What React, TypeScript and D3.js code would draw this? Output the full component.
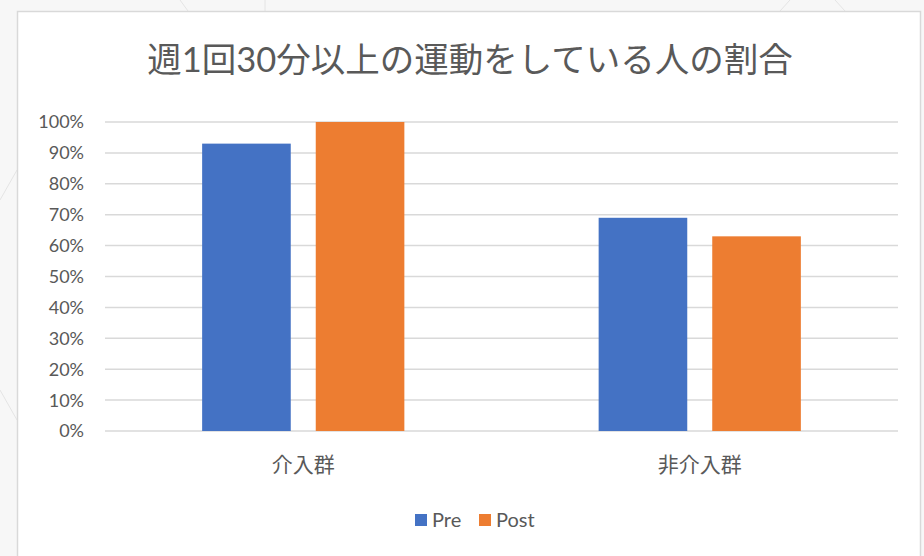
import React from "react";
import * as d3 from "d3";

const categories = ["介入群", "非介入群"];
const seriesNames = ["Pre", "Post"];
const preValues = [0.93, 0.69];
const postValues = [1.0, 0.63];
const yTicks = [0, 0.1, 0.2, 0.3, 0.4, 0.5, 0.6, 0.7, 0.8, 0.9, 1.0];
const title = "週1回30分以上の運動をしている人の割合";
const colors = ["#4472C4", "#ED7D31"];

const W = 924;
const H = 556;
const FONT = "Lato, 'Noto Sans CJK JP', sans-serif";

export default function App() {
  const left = 105, right = 898, top = 122, bottom = 431;
  const x0 = d3.scaleBand<string>().domain(categories).range([left, right]).paddingInner(0.49).paddingOuter(0.245);
  const x1 = d3.scaleBand<string>().domain(seriesNames).range([0, x0.bandwidth()]).paddingInner(0.22);
  const y = d3.scaleLinear().domain([0, 1]).range([bottom, top]);
  const values = [preValues, postValues];
  const fmt = d3.format(".0%");

  return (
    <svg width={W} height={H} style={{ position: "absolute", left: 0, top: 0, background: "#fafafa" }}>
      <rect x={0} y={0} width={W} height={H} fill="#f7f7f7" />
      <g stroke="#e4e4e4" strokeWidth={1} fill="none">
        <line x1={0} y1={200} x2={17} y2={170} />
        <line x1={0} y1={390} x2={17} y2={420} />
        <line x1={180} y1={0} x2={188} y2={11} />
        <line x1={265} y1={0} x2={265} y2={11} />
        <line x1={790} y1={0} x2={780} y2={11} />
        <line x1={835} y1={0} x2={845} y2={11} />
      </g>
      <rect x={17.5} y={11.5} width={903} height={560} fill="#ffffff" stroke="#d9d9d9" strokeWidth={1.5} />
      <text x={470} y={72} textAnchor="middle" fontFamily={FONT} fontSize={34.5} fill="#595959">{title}</text>
      {yTicks.map((t) => (
        <g key={t}>
          <line x1={left} x2={right} y1={y(t)} y2={y(t)} stroke="#d9d9d9" strokeWidth={1.5} />
          <text x={84} y={y(t)} dy="0.36em" textAnchor="end" fontFamily={FONT} fontSize={18} fill="#595959">{fmt(t)}</text>
        </g>
      ))}
      {categories.map((c, ci) => (
        <g key={c}>
          {seriesNames.map((s, si) => (
            <rect key={s}
              x={(x0(c) as number) + (x1(s) as number)}
              y={y(values[si][ci])}
              width={x1.bandwidth()}
              height={bottom - y(values[si][ci])}
              fill={colors[si]} />
          ))}
          <text x={(x0(c) as number) + x0.bandwidth() / 2} y={472} textAnchor="middle" fontFamily={FONT} fontSize={21} fill="#595959">{c}</text>
        </g>
      ))}
      <g>
        <rect x={415} y={514} width={12} height={12} fill={colors[0]} />
        <text x={432} y={527} fontFamily={FONT} fontSize={20} fill="#595959">{seriesNames[0]}</text>
        <rect x={479} y={514} width={12} height={12} fill={colors[1]} />
        <text x={496} y={527} fontFamily={FONT} fontSize={20} fill="#595959">{seriesNames[1]}</text>
      </g>
    </svg>
  );
}
